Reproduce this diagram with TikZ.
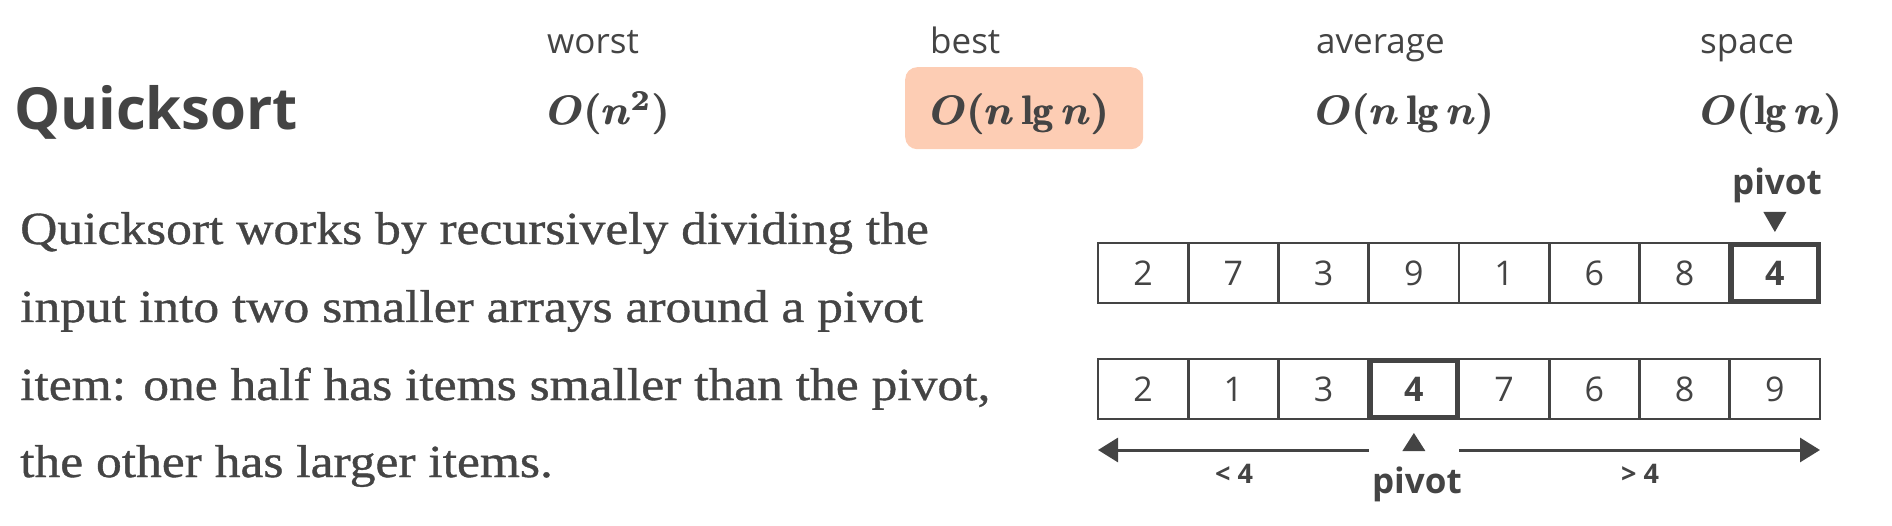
\documentclass[tikz,border=0pt]{standalone}
\usepackage{graphicx}
\usepackage{bm}
\usepackage{fontspec}
\newfontfamily\osans{Open Sans}
\newfontfamily\pserif[FakeStretch=1.12,FakeBold=0.8]{Liberation Serif}
\usetikzlibrary{arrows.meta}
\definecolor{ink}{HTML}{444444}
\definecolor{peach}{HTML}{FDCDB4}
\newcommand{\bigmath}[1]{\scalebox{4.1}{\fontsize{10}{10}\selectfont\mathversion{bold}%
  \rlap{$\bm{#1}$}\kern0.22pt$\bm{#1}$}}
\tikzset{
  cell/.style={draw=ink, line width=2.6pt, minimum width=90.25pt, minimum height=60pt,
    inner sep=0pt, outer sep=0pt, text=ink, font=\osans\fontsize{34}{34}\selectfont},
  pivcell/.style={cell, font=\osans\bfseries\fontsize{34}{34}\selectfont},
  pivring/.style={draw=ink, line width=3pt},
  head/.style={anchor=base west, inner sep=0pt, text=ink, font=\osans\fontsize{35}{35}\selectfont},
  title/.style={anchor=base west, inner sep=0pt, text=ink, font=\osans\bfseries\fontsize{58}{58}\selectfont},
  cplx/.style={anchor=base west, inner sep=0pt, text=ink},
  para/.style={anchor=base west, inner sep=0pt, text=ink, font=\pserif\fontsize{46}{46}\selectfont},
  pivlbl/.style={anchor=base, inner sep=0pt, text=ink, font=\osans\bfseries\fontsize{35}{35}\selectfont},
  cmplbl/.style={anchor=base, inner sep=0pt, text=ink, font=\osans\bfseries\fontsize{27}{27}\selectfont},
  arr/.style={draw=ink, line width=3pt, -{Triangle[length=20pt,width=24pt]}},
  marker/.style={fill=ink}
}
\begin{document}
\begin{tikzpicture}[x=1pt,y=-1pt]
\useasboundingbox (0,0) rectangle (1892,526);
% header
\node[title] (ttl) at (14,130) {Quicksort};
\node[head] (hw) at (547,54) {worst};
\node[head] (hb) at (930,54) {best};
\node[head] (ha) at (1316,54) {average};
\node[head] (hs) at (1700,54) {space};
\node[fill=peach, rounded corners=12pt, minimum width=238pt, minimum height=82pt,
  inner sep=0pt, anchor=north west] (bbox) at (905,67) {};
\node[cplx] (cw) at (547,125) {\bigmath{O(n^2)}};
\node[cplx] (cb) at (930,125) {\bigmath{O(n\lg n)}};
\node[cplx] (ca) at (1315,125) {\bigmath{O(n\lg n)}};
\node[cplx] (cs) at (1700,125) {\bigmath{O(\lg n)}};
% paragraph
\node[para] (p1) at (20,244) {Quicksort works by recursively dividing the};
\node[para] (p2) at (20,322) {input into two smaller arrays around a pivot};
\node[para] (p3) at (20,400) {item: one half has items smaller than the pivot,};
\node[para] (p4) at (20,477) {the other has larger items.};
% top array
\foreach \v [count=\i] in {2,7,3,9,1,6,8} {
  \node[cell] (t\i) at ({1098+90.25*(\i-0.5)},273) {\v};
}
\node[pivcell] (t8) at ({1098+90.25*7.5},273) {4};
\draw[pivring] ([shift={(2.5,2.5)}]t8.north west) rectangle ([shift={(-2.5,-2.5)}]t8.south east);
% bottom array
\foreach \v [count=\i] in {2,1,3} {
  \node[cell] (b\i) at ({1098+90.25*(\i-0.5)},389) {\v};
}
\node[pivcell] (b4) at ({1098+90.25*3.5},389) {4};
\foreach \v [count=\i from 5] in {7,6,8,9} {
  \node[cell] (b\i) at ({1098+90.25*(\i-0.5)},389) {\v};
}
\draw[pivring] ([shift={(2.5,2.5)}]b4.north west) rectangle ([shift={(-2.5,-2.5)}]b4.south east);
% top pivot marker
\node[pivlbl] (tp) at ([shift={(2,-48)}]t8.north) {pivot};
\fill[marker] ([shift={(0,-11)}]t8.north) -- ([shift={(-11.5,-31)}]t8.north) -- ([shift={(11.5,-31)}]t8.north) -- cycle;
% bottom pivot marker
\fill[marker] ([shift={(0,14)}]b4.south) -- ([shift={(-11.5,32)}]b4.south) -- ([shift={(11.5,32)}]b4.south) -- cycle;
\node[pivlbl] (bp) at ([shift={(3,74)}]b4.south) {pivot};
% arrows
\coordinate (ar) at (0,450);
\draw[arr] (b4.west |- ar) -- (b1.west |- ar);
\draw[arr] (b5.west |- ar) -- (b8.east |- ar);
\node[cmplbl] (lt) at (1234,483) {\textless{} 4};
\node[cmplbl] (gt) at (1640,483) {\textgreater{} 4};
\end{tikzpicture}
\end{document}
